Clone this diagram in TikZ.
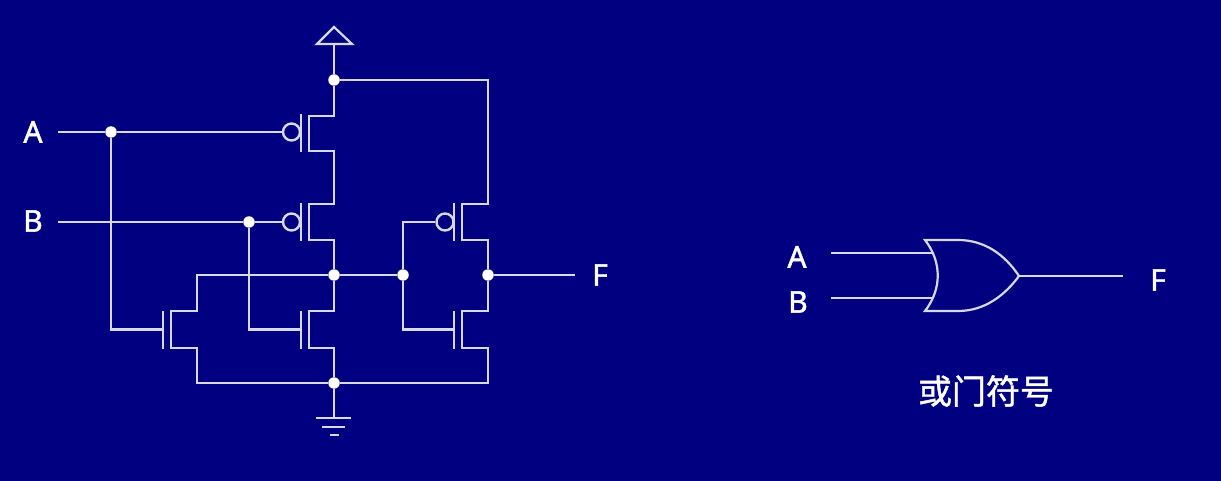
\documentclass[tikz,border=0pt]{standalone}
\usepackage{fontspec}
\setmainfont{Noto Sans}
\newfontfamily\pinfont[FakeBold=1.6]{Noto Sans}
\newfontfamily\cjkfont[FakeBold=1.2]{Noto Sans CJK SC}
\definecolor{bgnavy}{HTML}{000080}
\definecolor{wire}{HTML}{D8D8EA}
\begin{document}
\begin{tikzpicture}[x=1pt, y=-1pt]
  \tikzstyle{net}=[draw=wire, line width=2.2pt, line join=miter]
  \tikzstyle{junction}=[circle, fill=white, minimum size=11.5pt, inner sep=0pt]
  \tikzstyle{bubble}=[circle, draw=wire, line width=2.4pt, minimum size=17pt, inner sep=0pt]
  \tikzstyle{gatebar}=[fill=wire, minimum width=2.2pt, minimum height=38pt, inner sep=0pt]
  \tikzstyle{pinlabel}=[text=white, font=\pinfont\fontsize{30}{30}\selectfont, inner sep=0pt]
  \fill[bgnavy] (0,0) rectangle (1221,481);
  \useasboundingbox (0,0) rectangle (1221,481);

  % Junction definitions
  \node[junction] (jv) at (334,80) {};
  \node[junction] (ja) at (111,132) {};
  \node[junction] (jb) at (249,222) {};
  \node[junction] (jm) at (334,275) {};
  \node[junction] (jg) at (403,275) {};
  \node[junction] (jf) at (488,275) {};
  \node[junction] (jn) at (334,383) {};

  % Gate definitions
  \node[bubble] (b1) at (291.5,132) {};
  \node[bubble] (b2) at (291.5,222) {};
  \node[bubble] (b3) at (445,222) {};
  \node[gatebar] (g1) at (301,133.5) {};
  \node[gatebar] (g2) at (301,222.5) {};
  \node[gatebar] (g3) at (454,222.5) {};
  \node[gatebar] (g4) at (163,329.5) {};
  \node[gatebar] (g5) at (301,329.5) {};
  \node[gatebar] (g6) at (454,329.5) {};

  % Channel corners
  \coordinate (p1a) at (309,116);
  \coordinate (p1b) at (309,151);
  \coordinate (p2a) at (309,204);
  \coordinate (p2b) at (309,240);
  \coordinate (p3a) at (462,204);
  \coordinate (p3b) at (462,240);
  \coordinate (n1a) at (171,311);
  \coordinate (n1b) at (171,348);
  \coordinate (n2a) at (309,311);
  \coordinate (n2b) at (309,348);
  \coordinate (n3a) at (462,311);
  \coordinate (n3b) at (462,348);
  \coordinate (c1) at (334,175);
  \coordinate (c2) at (197,295);
  \coordinate (c3) at (197,365);
  \coordinate (c4) at (488,365);
  \coordinate (c5) at (488,140);

  % Free ends
  \coordinate (ina) at (58,132);
  \coordinate (inb) at (58,222);
  \coordinate (outf) at (575,275);
  \coordinate (vdd) at (334,44);
  \coordinate (vddl) at (317,44);
  \coordinate (vddr) at (352,44);
  \coordinate (vddt) at (334,27);
  \coordinate (gnd) at (334,418);
  \coordinate (gnd1l) at (316,418);
  \coordinate (gnd1r) at (351,418);
  \coordinate (gnd2l) at (322,427);
  \coordinate (gnd2r) at (345,427);
  \coordinate (gnd3l) at (330,435);
  \coordinate (gnd3r) at (339,435);

  % Supply and output rails
  \draw[net] (vddl) -- (vddt) -- (vddr) -- cycle;
  \draw[net] (vdd) -- (jv);
  \draw[net] (jn) -- (gnd);
  \draw[net] (gnd1l) -- (gnd1r);
  \draw[net] (gnd2l) -- (gnd2r);
  \draw[net] (gnd3l) -- (gnd3r);
  \draw[net] (jf) -- (outf);
  \draw[net] (jm) -- (jg);

  % Transistor paths
  \draw[net] (jv) |- (p1a) -- (p1b) -| (c1) |- (p2a) -- (p2b) -| (jm);
  \draw[net] (jv) -| (c5) |- (p3a) -- (p3b) -| (jf);
  \draw[net] (jm) -| (c2) |- (n1a) -- (n1b) -| (c3) |- (jn);
  \draw[net] (jm) |- (n2a) -- (n2b) -| (jn);
  \draw[net] (jf) |- (n3a) -- (n3b) -| (c4) |- (jn);

  % Inputs
  \draw[net] (ina) -- (ja) -- (b1);
  \draw[net] (inb) -- (jb) -- (b2);
  \draw[net] (ja) |- (g4);
  \draw[net] (jb) |- (g5);
  \draw[net] (jg) |- (b3);
  \draw[net] (jg) |- (g6);

  % Or gate symbol
  \coordinate (ortop) at (925,240);
  \coordinate (orbot) at (925,311);
  \coordinate (ortip) at (1019,276);
  \coordinate (or1) at (932,253);
  \coordinate (or2) at (932,298);
  \coordinate (orin1) at (831,253);
  \coordinate (orin2) at (831,298);
  \coordinate (orout) at (1123,276);
  \draw[net] (ortop) .. controls (942,262) and (942,289) .. (orbot)
    -- (958,311) .. controls (985,311) and (1005,295) .. (ortip)
    .. controls (1005,255) and (985,240) .. (958,240) -- cycle;
  \draw[net] (orin1) -- (or1);
  \draw[net] (orin2) -- (or2);
  \draw[net] (ortip) -- (orout);

  % Labels
  \node[pinlabel] (la) at (33,132) {A};
  \node[pinlabel] (lb) at (33,221) {B};
  \node[pinlabel] (lf) at (600,275) {F};
  \node[pinlabel] (ra) at (797,257) {A};
  \node[pinlabel] (rb) at (798,302) {B};
  \node[pinlabel] (rf) at (1158,280) {F};
  \node[text=white, font=\cjkfont\fontsize{34}{34}\selectfont, inner sep=0pt] (title) at (986,391) {或门符号};
\end{tikzpicture}
\end{document}
